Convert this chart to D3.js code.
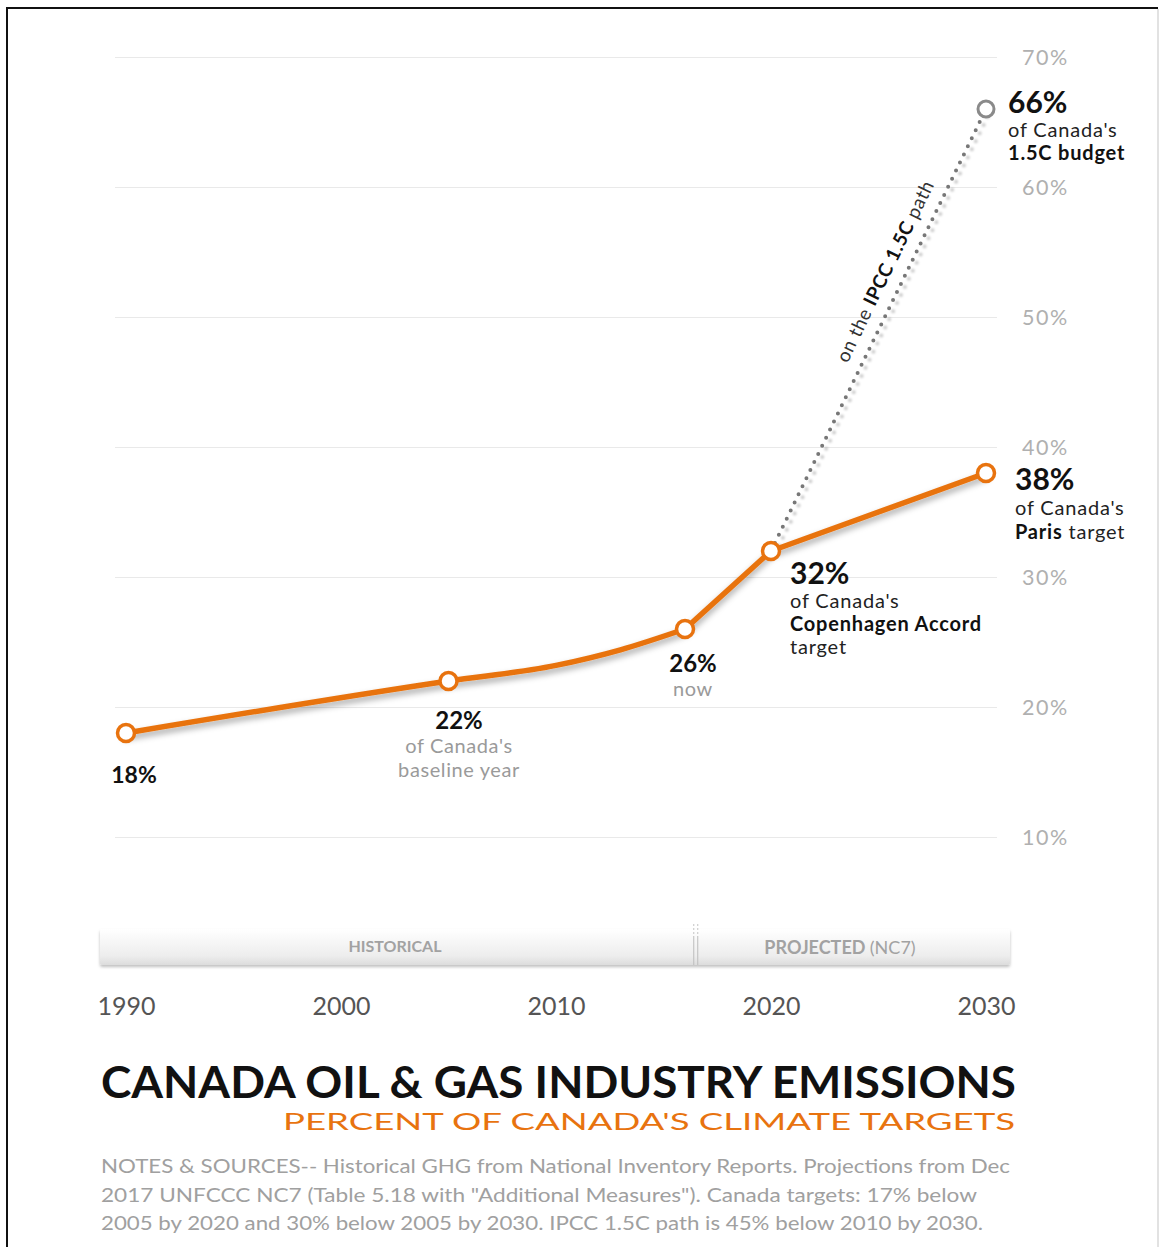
<!DOCTYPE html>
<html>
<head>
<meta charset="utf-8">
<script src="https://cdn.jsdelivr.net/npm/d3@7"></script>
<style>
  html, body { margin: 0; padding: 0; background: #fff; }
  svg { display: block; }
  text { font-family: Lato, "Open Sans", sans-serif; }
</style>
</head>
<body>
<svg id="chart" width="1162" height="1247"></svg>
<script>
// Oil & gas emissions as a share of Canada's climate targets
const years  = [1990, 2005, 2010, 2013, 2016, 2020, 2030];
const share  = [18, 22, 23.2, 24.4, 26, 32, 38];
const markerYears = [1990, 2005, 2016, 2020, 2030];
const lastHistorical = 2016;
const ipccYears = [2020, 2030];
const ipccShare = [32, 66];
const yTicks = [10, 20, 30, 40, 50, 60, 70];
const xTicks = [1990, 2000, 2010, 2020, 2030];
const splitYear = 2016.5;

const ORANGE = "#E8730F";

const svg = d3.select("#chart");
const x = d3.scaleLinear().domain([1990, 2030]).range([126, 986]);
const y = d3.scaleLinear().domain([0, 70]).range([967, 57]);

const defs = svg.append("defs");
const shadow = defs.append("filter").attr("id", "lineShadow")
  .attr("x", "-10%").attr("y", "-20%").attr("width", "120%").attr("height", "160%");
shadow.append("feDropShadow").attr("dx", 0).attr("dy", 4).attr("stdDeviation", 3)
  .attr("flood-color", "#000").attr("flood-opacity", 0.35);
const dotShadow = defs.append("filter").attr("id", "dotShadow")
  .attr("x", "-20%").attr("y", "-20%").attr("width", "140%").attr("height", "140%");
dotShadow.append("feDropShadow").attr("dx", 4).attr("dy", 3).attr("stdDeviation", 1)
  .attr("flood-color", "#000").attr("flood-opacity", 0.2);
const bandGrad = defs.append("linearGradient").attr("id", "bandGrad")
  .attr("x1", 0).attr("y1", 0).attr("x2", 0).attr("y2", 1);
bandGrad.append("stop").attr("offset", "0%").attr("stop-color", "#ffffff");
bandGrad.append("stop").attr("offset", "75%").attr("stop-color", "#ededed");
bandGrad.append("stop").attr("offset", "100%").attr("stop-color", "#dcdcdc");
const bandShadow = defs.append("filter").attr("id", "bandShadow")
  .attr("x", "-5%").attr("y", "-30%").attr("width", "110%").attr("height", "180%");
bandShadow.append("feDropShadow").attr("dx", 0).attr("dy", 2).attr("stdDeviation", 1.5)
  .attr("flood-color", "#000").attr("flood-opacity", 0.25);

// frame
svg.append("line").attr("x1", 7).attr("x2", 1158).attr("y1", 8).attr("y2", 8)
  .attr("stroke", "#111").attr("stroke-width", 2);
svg.append("line").attr("x1", 7).attr("x2", 7).attr("y1", 7).attr("y2", 1247)
  .attr("stroke", "#111").attr("stroke-width", 2);
svg.append("line").attr("x1", 1158).attr("x2", 1158).attr("y1", 9).attr("y2", 1247)
  .attr("stroke", "#d8d8d8").attr("stroke-width", 1.5);

// y gridlines + labels on the right
const yAxis = d3.axisRight(y).tickValues(yTicks).tickFormat(d => d + "%")
  .tickSize(-882).tickPadding(25);
const gy = svg.append("g").attr("transform", "translate(997,0)").call(yAxis);
gy.select(".domain").remove();
gy.selectAll(".tick line").attr("stroke", "#e9e9e9").attr("stroke-width", 1.2);
gy.selectAll(".tick text").attr("fill", "#b0b0b0").attr("font-size", 21.5)
  .attr("font-family", "Lato, sans-serif").attr("letter-spacing", 1.5).attr("dy", "0.35em");

// historical / projected band
const band = svg.append("g");
band.append("rect").attr("x", 100).attr("y", 929).attr("width", 910).attr("height", 36)
  .attr("rx", 2).attr("fill", "url(#bandGrad)").attr("filter", "url(#bandShadow)");
const sx = x(splitYear);
[-2, 2].forEach(o => {
  band.append("line").attr("x1", sx + o).attr("x2", sx + o).attr("y1", 936).attr("y2", 965)
    .attr("stroke", "#bdbdbd").attr("stroke-width", 1);
  band.append("line").attr("x1", sx + o).attr("x2", sx + o).attr("y1", 924).attr("y2", 936)
    .attr("stroke", "#c4c4c4").attr("stroke-width", 1).attr("stroke-dasharray", "2,2");
});
band.append("text").attr("x", 395).attr("y", 952).attr("text-anchor", "middle")
  .attr("fill", "#a2a2a2").attr("font-size", 16).attr("font-weight", 700).text("HISTORICAL");
band.append("text").attr("x", 840).attr("y", 954).attr("text-anchor", "middle")
  .attr("fill", "#a2a2a2").attr("font-size", 18).attr("font-weight", 700)
  .html('PROJECTED <tspan font-weight="400">(NC7)</tspan>');

// x axis labels
const xAxis = d3.axisBottom(x).tickValues(xTicks).tickFormat(d3.format("d")).tickSize(0).tickPadding(0);
const gx = svg.append("g").attr("transform", "translate(0,997)").call(xAxis);
gx.select(".domain").remove();
gx.selectAll(".tick text").attr("fill", "#555").attr("font-size", 25)
  .attr("font-family", "Lato, sans-serif").attr("dy", "0.71em");

// IPCC 1.5C dotted path
const ipccPts = ipccYears.map((yr, i) => [x(yr), y(ipccShare[i])]);
svg.append("line")
  .attr("x1", ipccPts[0][0]).attr("y1", ipccPts[0][1])
  .attr("x2", ipccPts[1][0]).attr("y2", ipccPts[1][1])
  .attr("stroke", "#777").attr("stroke-width", 4)
  .attr("stroke-linecap", "round").attr("stroke-dasharray", "0,9")
  .attr("filter", "url(#dotShadow)");
svg.append("circle").attr("cx", ipccPts[1][0]).attr("cy", ipccPts[1][1]).attr("r", 8)
  .attr("fill", "#fff").attr("stroke", "#8a8a8a").attr("stroke-width", 3);

const ang = Math.atan2(ipccPts[1][1] - ipccPts[0][1], ipccPts[1][0] - ipccPts[0][0]) * 180 / Math.PI;
svg.append("text").attr("transform", `translate(891,274) rotate(${ang})`)
  .attr("text-anchor", "middle").attr("fill", "#333").attr("font-size", 19)
  .attr("letter-spacing", 0.6)
  .html('on the <tspan font-weight="700" fill="#111">IPCC 1.5C</tspan> path');

// main series: smooth historical stretch, straight projected segments
const pts = years.map((yr, i) => ({ year: yr, v: share[i] }));
const hist = pts.filter(d => d.year <= lastHistorical);
const proj = pts.filter(d => d.year >= lastHistorical);
const lineHist = d3.line().x(d => x(d.year)).y(d => y(d.v)).curve(d3.curveMonotoneX);
const lineProj = d3.line().x(d => x(d.year)).y(d => y(d.v));
const series = svg.append("g").attr("filter", "url(#lineShadow)");
[[hist, lineHist], [proj, lineProj]].forEach(([data, gen]) => {
  series.append("path").datum(data).attr("d", gen)
    .attr("fill", "none").attr("stroke", ORANGE).attr("stroke-width", 5.5)
    .attr("stroke-linejoin", "round").attr("stroke-linecap", "round");
});

svg.selectAll(".marker").data(pts.filter(d => markerYears.includes(d.year)))
  .join("circle").attr("class", "marker")
  .attr("cx", d => x(d.year)).attr("cy", d => y(d.v)).attr("r", 8.5)
  .attr("fill", "#fff").attr("stroke", ORANGE).attr("stroke-width", 3.5);

// point annotations, one text element per line
function label(xp, yp, anchor, lines) {
  lines.forEach(l => {
    svg.append("text").attr("text-anchor", anchor)
      .attr("x", xp).attr("y", yp + l.dy)
      .attr("font-size", l.size).attr("fill", l.fill || "#111")
      .attr("letter-spacing", l.ls == null ? 0.8 : l.ls)
      .attr("font-weight", l.weight || 400).html(l.text);
  });
}
const v = yr => share[years.indexOf(yr)];

label(134, 783, "middle", [{ dy: 0, size: 23, weight: 700, ls: 0, text: v(1990) + "%" }]);
label(459, 729, "middle", [
  { dy: 0, size: 24, weight: 700, ls: 0, text: v(2005) + "%" },
  { dy: 24, size: 20, fill: "#9a9a9a", ls: 0.6, text: "of Canada's" },
  { dy: 48, size: 20, fill: "#9a9a9a", ls: 0.6, text: "baseline year" }
]);
label(693, 672, "middle", [
  { dy: 0, size: 24, weight: 700, ls: 0, text: v(2016) + "%" },
  { dy: 24, size: 20, fill: "#9a9a9a", ls: 0.6, text: "now" }
]);
label(790, 584, "start", [
  { dy: 0, size: 30, weight: 700, ls: 0, text: v(2020) + "%" },
  { dy: 24, size: 20, fill: "#222", text: "of Canada's" },
  { dy: 47, size: 20, fill: "#111", weight: 700, text: "Copenhagen Accord" },
  { dy: 70, size: 20, fill: "#222", text: "target" }
]);
label(1015, 490, "start", [
  { dy: 0, size: 30, weight: 700, ls: 0, text: v(2030) + "%" },
  { dy: 25, size: 20, fill: "#222", text: "of Canada's" },
  { dy: 49, size: 20, fill: "#222", text: '<tspan font-weight="700" fill="#111">Paris</tspan> target' }
]);
label(1008, 113, "start", [
  { dy: 0, size: 30, weight: 700, ls: 0, text: ipccShare[1] + "%" },
  { dy: 24, size: 20, fill: "#222", text: "of Canada's" },
  { dy: 47, size: 20, fill: "#111", weight: 700, text: "1.5C budget" }
]);

// title block
svg.append("text").attr("x", 101).attr("y", 1098).attr("fill", "#111")
  .attr("font-size", 43.5).attr("font-weight", 700)
  .attr("textLength", 915).attr("lengthAdjust", "spacingAndGlyphs")
  .text("CANADA OIL & GAS INDUSTRY EMISSIONS");
svg.append("text").attr("x", 283).attr("y", 1130).attr("fill", ORANGE)
  .attr("font-size", 24).attr("font-weight", 400)
  .attr("textLength", 732).attr("lengthAdjust", "spacingAndGlyphs")
  .text("PERCENT OF CANADA'S CLIMATE TARGETS");

const notes = [
  "NOTES & SOURCES-- Historical GHG from National Inventory Reports. Projections from Dec",
  "2017 UNFCCC NC7 (Table 5.18 with \"Additional Measures\"). Canada targets: 17% below",
  "2005 by 2020 and 30% below 2005 by 2030. IPCC 1.5C path is 45% below 2010 by 2030."
];
const noteW = [909, 876, 882];
notes.forEach((n, i) => {
  svg.append("text").attr("x", 101).attr("y", 1173 + i * 28.5).attr("fill", "#a0a0a0")
    .attr("font-size", 19.5).attr("textLength", noteW[i]).attr("lengthAdjust", "spacingAndGlyphs")
    .text(n);
});
</script>
</body>
</html>
